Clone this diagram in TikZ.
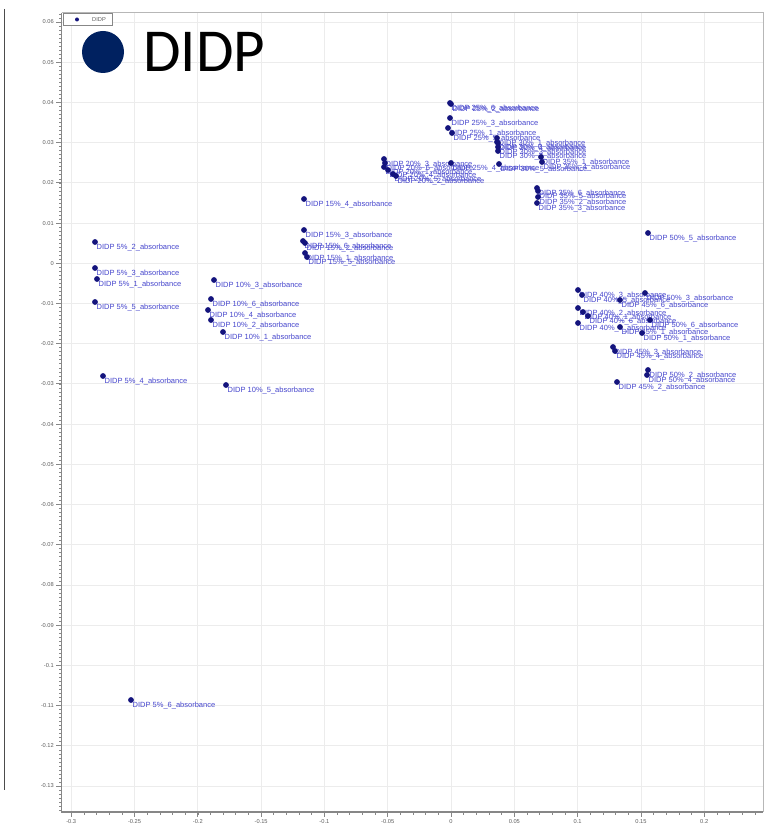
\documentclass[tikz,border=0pt]{standalone}
\usepackage{fontspec}
\setmainfont{Liberation Sans}
\newfontfamily\keyfont{Carlito}
\definecolor{dotblue}{RGB}{20,20,125}
\definecolor{labblue}{RGB}{70,70,205}
\definecolor{keynavy}{RGB}{0,33,96}
\definecolor{gridgray}{RGB}{236,236,236}
\definecolor{axisgray}{RGB}{135,135,135}

\begin{document}
\begin{tikzpicture}[x=1pt,y=-1pt,
		dot/.style={circle,fill=dotblue,inner sep=0pt,minimum size=5.8pt},
		lab/.style={anchor=north west,inner sep=0pt,text=labblue,font=\fontsize{7.5}{8}\selectfont},
		ticklab/.style={inner sep=0pt,text=axisgray!70!black,font=\fontsize{5.7}{6}\selectfont}]
			\useasboundingbox (0,0) rectangle (764,829);
			\fill[white] (0,0) rectangle (764,829);
			\draw[black!70,line width=1pt] (4,9)--(4,790);

			\foreach \i/\t in {-6/-0.3,-5/-0.25,-4/-0.2,-3/-0.15,-2/-0.1,-1/-0.05,0/0,1/0.05,2/0.1,3/0.15,4/0.2}{
				\draw[gridgray,line width=0.8pt] ({451+\i*63.3},13)--({451+\i*63.3},812);
				\draw[axisgray,line width=0.8pt] ({451+\i*63.3},812)--({451+\i*63.3},817);
				\node[ticklab,anchor=north] (xt\i) at ({451+\i*63.3},819) {\t};
			}
			\foreach \i/\t in {6/0.06,5/0.05,4/0.04,3/0.03,2/0.02,1/0.01,0/0,-1/-0.01,-2/-0.02,-3/-0.03,-4/-0.04,-5/-0.05,-6/-0.06,-7/-0.07,-8/-0.08,-9/-0.09,-10/-0.1,-11/-0.11,-12/-0.12,-13/-0.13}{
				\draw[gridgray,line width=0.8pt] (62,{22+(6-\i)*40.21})--(763,{22+(6-\i)*40.21});
				\draw[axisgray,line width=0.8pt] (56,{22+(6-\i)*40.21})--(62,{22+(6-\i)*40.21});
				\node[ticklab,anchor=east] (yt\i) at (54,{22+(6-\i)*40.21}) {\t};
			}
			\foreach \k in {-2,...,196}
				\draw[axisgray,line width=0.6pt] (59,{22+\k*4.021})--(62,{22+\k*4.021});
			\foreach \k in {-30,...,24}
				\draw[axisgray,line width=0.6pt] ({451+\k*12.66},812)--({451+\k*12.66},815);

			\draw[axisgray!60,line width=1pt] (61.5,13)--(763,13)--(763,812);
			\draw[axisgray,line width=1.3pt] (61.5,13)--(61.5,812)--(763,812);

			\draw[axisgray,fill=white,line width=0.6pt] (63,13.5) rectangle (112,25);
			\fill[dotblue] (77,19.5) circle (2pt);
			\node[ticklab,anchor=west] (smallkey) at (92,19.5) {DIDP};

			\foreach \x/\y/\c/\r in {
				95/242/5/2, 95/268/5/3, 97/279/5/1, 95/302/5/5, 103/376/5/4, 131/700/5/6,
				214/280/10/3, 211/299/10/6, 208/310/10/4, 211/320/10/2, 223/332/10/1, 226/385/10/5,
				304/199/15/4, 304/230/15/3, 303/241/15/6, 305/243/15/2, 305/253/15/1, 307/257/15/5,
				384/159/20/3, 385/163/20/6, 384/167/20/1, 388/170/20/4, 393/174/20/5, 396/176/20/2,
				450/103/25/6, 451/104/25/2, 450/118/25/3, 448/128/25/1, 452/133/25/5, 451/163/25/4,
				497/138/30/1, 497/142/30/6, 498/143/30/4, 498/147/30/3, 498/151/30/2, 499/164/30/5,
				541/157/35/1, 542/162/35/4, 537/188/35/6, 538/191/35/5, 538/197/35/2, 537/203/35/3,
				578/290/40/3, 582/295/40/5, 578/308/40/2, 583/312/40/1, 588/316/40/6, 578/323/40/4,
				620/300/45/6, 620/327/45/1, 613/347/45/3, 615/351/45/4, 617/382/45/2,
				648/233/50/5, 645/293/50/3, 650/320/50/6, 642/333/50/1, 648/370/50/2, 647/375/50/4}{
				\node[lab] (l-\c-\r) at (\x+1.5,\y+1.5) {DIDP \c\%\_\r\_absorbance};
				\node[dot] (p-\c-\r) at (\x,\y) {};
			}

			\fill[keynavy] (103,52) circle (21pt);
			\node[anchor=base west,inner sep=0pt,font=\keyfont\fontsize{61}{62}\selectfont] (bigkey) at (143,72) {DIDP};
		\end{tikzpicture}
\end{document}
